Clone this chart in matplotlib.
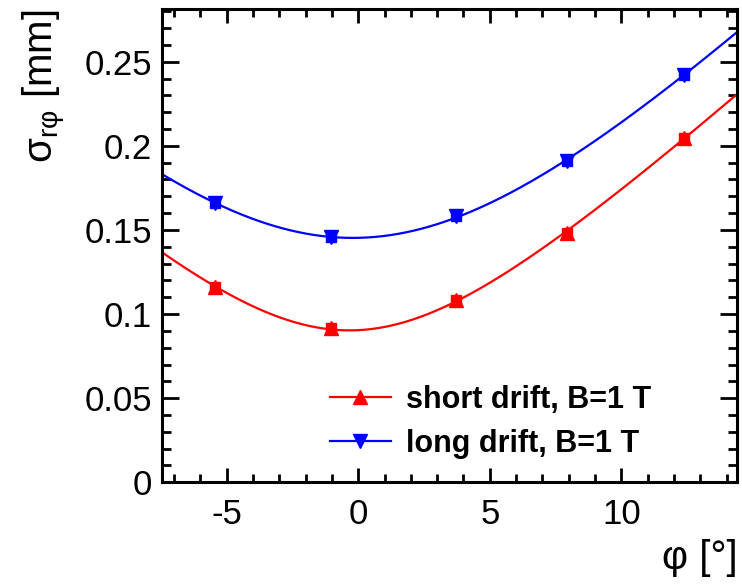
import numpy as np
import matplotlib
matplotlib.use('Agg')
import matplotlib.pyplot as plt
from matplotlib.ticker import MultipleLocator

plt.rcParams['font.family'] = ['Liberation Sans', 'DejaVu Sans']
plt.rcParams['mathtext.fontset'] = 'custom'
plt.rcParams['mathtext.rm'] = 'Liberation Sans'
plt.rcParams['mathtext.it'] = 'Liberation Sans'
plt.rcParams['axes.unicode_minus'] = False

# measured points (phi in degrees, sigma in mm)
phi = [-5.46, -1.04, 3.71, 7.94, 12.37]
sigma_short = [0.1162, 0.0916, 0.1084, 0.1482, 0.2045]
sigma_long = [0.1662, 0.1455, 0.1583, 0.1910, 0.2422]

labels = ['short drift, B=1 T', 'long drift, B=1 T']
colors = ['#ff0000', '#0000ff']
markers = ['^', 'v']

xmin, xmax = -7.46, 14.41
ymin, ymax = 0.0, 0.2813

fig = plt.figure(figsize=(7.42, 5.86), dpi=100)
ax = fig.add_axes([0.2183, 0.177, 0.9937 - 0.2183, 0.9846 - 0.177])

xs = np.linspace(xmin, xmax, 300)
handles = []
for vals, col, mk, lab in zip([sigma_short, sigma_long], colors, markers, labels):
    x = np.array(phi)
    y = np.array(vals)
    # fit sigma^2 = a + b*phi + c*phi^2 to the points
    p = np.polyfit(x, y ** 2, 2)
    ax.plot(xs, np.sqrt(np.polyval(p, xs)), color=col, lw=1.6, zorder=2)
    ax.plot(x, y, linestyle='none', marker='s', ms=7.5, color=col, zorder=3)
    ax.plot(x, y, linestyle='none', marker=mk, ms=10, color=col, zorder=3)
    h, = ax.plot([], [], color=col, lw=1.6, marker=mk, ms=10)
    handles.append(h)

ax.set_xlim(xmin, xmax)
ax.set_ylim(ymin, ymax)

ax.xaxis.set_major_locator(MultipleLocator(5))
ax.xaxis.set_minor_locator(MultipleLocator(1))
ax.yaxis.set_major_locator(MultipleLocator(0.05))
ax.yaxis.set_minor_locator(MultipleLocator(0.01))
ax.yaxis.set_major_formatter(plt.FuncFormatter(lambda v, pos: '0' if abs(v) < 1e-9 else ('%g' % v)))

for s in ax.spines.values():
    s.set_linewidth(2.2)
ax.tick_params(axis='both', which='both', direction='in', top=True, right=True,
               width=2.0, labelsize=25)
ax.tick_params(axis='x', which='major', length=10, pad=11)
ax.tick_params(axis='x', which='minor', length=5.5)
ax.tick_params(axis='y', which='major', length=12, pad=7)
ax.tick_params(axis='y', which='minor', length=6.5)

ax.set_xlabel('φ [°]', fontsize=29, loc='right', labelpad=6)
ax.set_ylabel(r'$\mathregular{\sigma_{r\varphi}}$ [mm]', fontsize=29, loc='top', labelpad=12)

ax.legend(handles, labels, loc='upper left', bbox_to_anchor=(0.244, 0.264),
          frameon=False, handlelength=2.0, handletextpad=0.5, labelspacing=0.45,
          prop={'weight': 'bold', 'size': 22})

fig.savefig('out.png', dpi=100)
